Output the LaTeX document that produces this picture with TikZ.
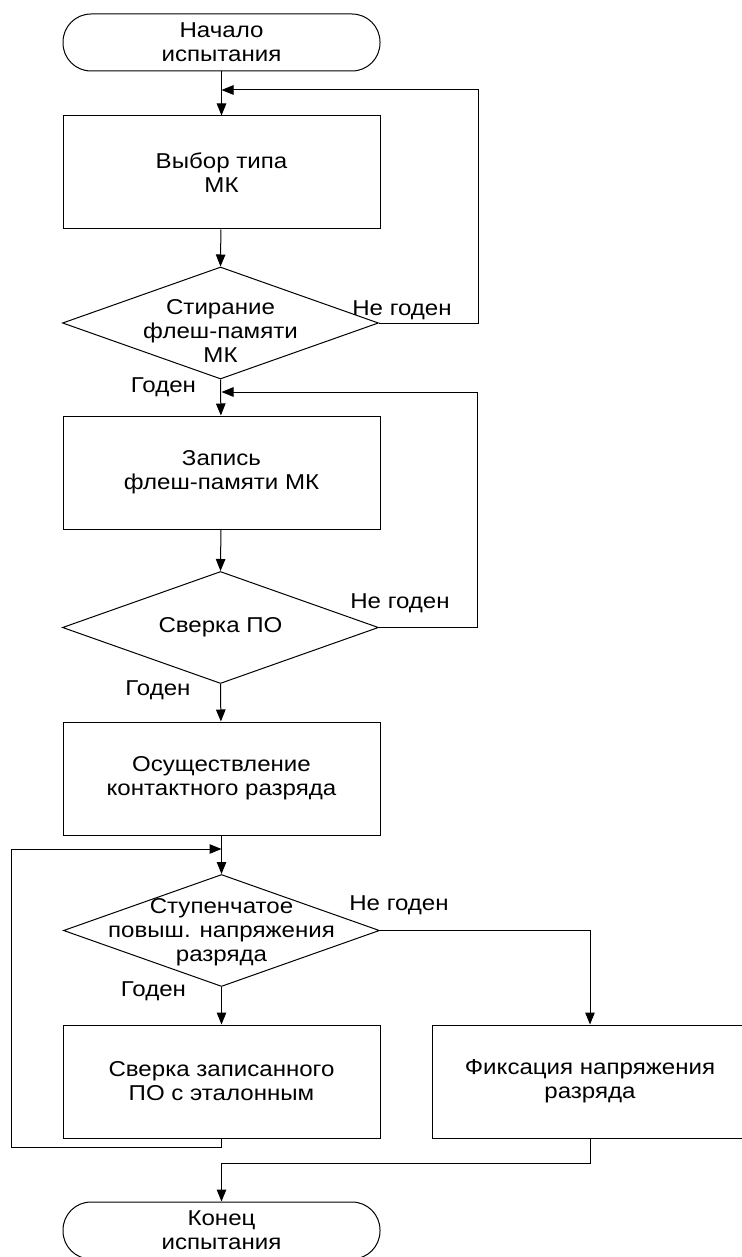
\documentclass[tikz,border=0pt]{standalone}
\usepackage{fontspec}
\setmainfont{Liberation Sans}[FakeStretch=1.12]
\usetikzlibrary{arrows.meta,shapes.geometric}
\newcommand\dgtxt{\fontsize{21.5}{24}\selectfont}
\begin{document}
\begin{tikzpicture}[x=1pt,y=-1pt,line width=1pt,
  box/.style={draw,rectangle,minimum width=317pt,minimum height=113pt,inner sep=0pt,align=center,font=\dgtxt},
  term/.style={draw,rectangle,rounded corners=28pt,minimum width=317pt,minimum height=57pt,inner sep=0pt,align=center,font=\dgtxt},
  dec/.style={draw,diamond,minimum width=316pt,minimum height=112pt,inner sep=0pt},
  lbl/.style={inner sep=0pt,align=center,font=\dgtxt},
  arr/.style={-{Triangle[length=12pt,width=9.5pt]}}]
\useasboundingbox[fill=white] (0,0) rectangle (741,1257);

\node[term] (start) at (221.5,42.5) {Начало\\испытания};
\node[box] (b1) at (221.5,172.5) {Выбор типа\\МК};
\node[dec] (d1) at (220.5,323) {};
\node[lbl] (d1t) at (220.5,331) {Стирание\\флеш-памяти\\МК};
\node[box] (b2) at (221.5,472.5) {Запись\\флеш-памяти МК};
\node[dec] (d2) at (220.5,627.5) {};
\node[lbl] (d2t) at (220.5,627.5) {Сверка ПО};
\node[box] (b3) at (221.5,778.5) {Осуществление\\контактного разряда};
\node[dec] (d3) at (221.5,930.5) {};
\node[lbl] (d3t) at (221.5,932) {Ступенчатое\\повыш. напряжения\\разряда};
\node[box] (b4) at (221.5,1081.5) {Сверка записанного\\ПО с эталонным};
\node[box,minimum width=316pt] (b5) at (590,1081.5) {Фиксация напряжения\\разряда};
\node[term] (end) at (221.5,1230.5) {Конец\\испытания};

\node[lbl,anchor=base] (n1) at (402,315) {Не годен};
\node[lbl,anchor=base] (g1) at (163.5,392) {Годен};
\node[lbl,anchor=base] (n2) at (400,608) {Не годен};
\node[lbl,anchor=base] (g2) at (158,695) {Годен};
\node[lbl,anchor=base] (n3) at (399,910) {Не годен};
\node[lbl,anchor=base] (g3) at (153.5,996) {Годен};

\coordinate (m1) at (221.5,90);
\coordinate (m2) at (221.5,392);
\coordinate (m3) at (221.5,849);

\draw[arr] (start) -- (b1);
\draw[arr] (b1) -- (d1.north);
\draw[arr] (d1.south) -- (b2);
\draw[arr] (b2) -- (d2.north);
\draw[arr] (d2.south) -- (b3);
\draw[arr] (b3) -- (d3.north);
\draw[arr] (d3.south) -- (b4);
\draw[arr] (d3.east) -| (b5.north);
\draw[arr] (b5.south) -- ++(0,25) -| (end.north);

\draw[arr] (d1.east) -| (478,90) -- (m1);
\draw[arr] (d2.east) -| (477,392) -- (m2);
\draw[arr] (b4.south) -- ++(0,9) -| (11,849) -- (m3);
\end{tikzpicture}
\end{document}
